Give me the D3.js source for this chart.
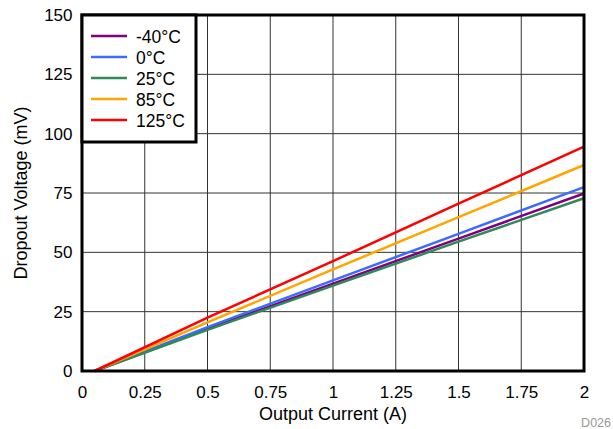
<!DOCTYPE html>
<html><head><meta charset="utf-8">
<script src="https://cdn.jsdelivr.net/npm/d3@7"></script>
<style>body{margin:0;background:#fff}svg{display:block}text{font-family:"Liberation Sans",Arial,sans-serif}</style>
</head><body><svg id="c" width="613" height="429"></svg>
<script>
const xValues = [0.05, 0.5, 1, 1.5, 2];
const seriesNames = ["-40°C", "0°C", "25°C", "85°C", "125°C"];
const seriesColors = ["#800080", "#3C6CFF", "#2E8B57", "#FFA500", "#FF0000"];
const vM40 = [0, 17.8, 36.8, 55.8, 74.8];
const v0 = [0, 18.5, 38.2, 57.8, 77.5];
const v25 = [0, 17.3, 36.0, 54.5, 72.8];
const v85 = [0, 20.5, 42.8, 64.8, 86.8];
const v125 = [0, 22.5, 46.3, 70.5, 94.5];
const xTicks = [0, 0.25, 0.5, 0.75, 1, 1.25, 1.5, 1.75, 2];
const yTicks = [0, 25, 50, 75, 100, 125, 150];
const seriesValues = [vM40, v0, v25, v85, v125];

const svg = d3.select("#c");
const L = 82, R = 584, T = 15, B = 371;
const x = d3.scaleLinear().domain([0, 2]).range([L, R]);
const y = d3.scaleLinear().domain([0, 150]).range([B, T]);

// grid
svg.append("g").selectAll("line").data(xTicks).join("line")
  .attr("x1", d => x(d)).attr("x2", d => x(d)).attr("y1", T).attr("y2", B)
  .attr("stroke", "#333").attr("stroke-width", 1);
svg.append("g").selectAll("line").data(yTicks).join("line")
  .attr("x1", L).attr("x2", R).attr("y1", d => y(d)).attr("y2", d => y(d))
  .attr("stroke", "#333").attr("stroke-width", 1);

// axes
const fmt = d => String(d);
const xa = svg.append("g").attr("transform", `translate(0,${B})`)
  .call(d3.axisBottom(x).tickValues(xTicks).tickFormat(fmt).tickSize(0).tickPadding(15));
const ya = svg.append("g").attr("transform", `translate(${L},0)`)
  .call(d3.axisLeft(y).tickValues(yTicks).tickFormat(fmt).tickSize(0).tickPadding(9.5));
[xa, ya].forEach(a => {
  a.select(".domain").remove();
  a.selectAll("text").attr("font-size", 17).attr("fill", "#000")
    .attr("font-family", '"Liberation Sans",Arial,sans-serif');
});

// lines
const line = d3.line().x((d, i) => x(xValues[i])).y(d => y(d));
svg.append("g").selectAll("path").data(seriesValues).join("path")
  .attr("d", d => line(d)).attr("fill", "none")
  .attr("stroke", (d, i) => seriesColors[i]).attr("stroke-width", 2.5);

// frame
svg.append("rect").attr("x", L).attr("y", T).attr("width", R - L).attr("height", B - T)
  .attr("fill", "none").attr("stroke", "#000").attr("stroke-width", 3);

// legend
const lg = svg.append("g");
lg.append("rect").attr("x", L).attr("y", T).attr("width", 114).attr("height", 127)
  .attr("fill", "#fff").attr("stroke", "#000").attr("stroke-width", 3);
seriesNames.forEach((n, i) => {
  const yy = 36 + i * 21;
  lg.append("line").attr("x1", 91).attr("x2", 127).attr("y1", yy).attr("y2", yy)
    .attr("stroke", seriesColors[i]).attr("stroke-width", 2.5);
  lg.append("text").attr("x", 136).attr("y", yy + 6.5).attr("font-size", 17.5).text(n);
});

// titles
svg.append("text").attr("x", x(1)).attr("y", 420).attr("text-anchor", "middle")
  .attr("font-size", 18).text("Output Current (A)");
svg.append("text").attr("transform", `translate(27,${(T + B) / 2}) rotate(-90)`)
  .attr("text-anchor", "middle").attr("font-size", 18).text("Dropout Voltage (mV)");
svg.append("text").attr("x", 611).attr("y", 427).attr("text-anchor", "end")
  .attr("font-size", 12.5).attr("fill", "#999").text("D026");
</script></body></html>
